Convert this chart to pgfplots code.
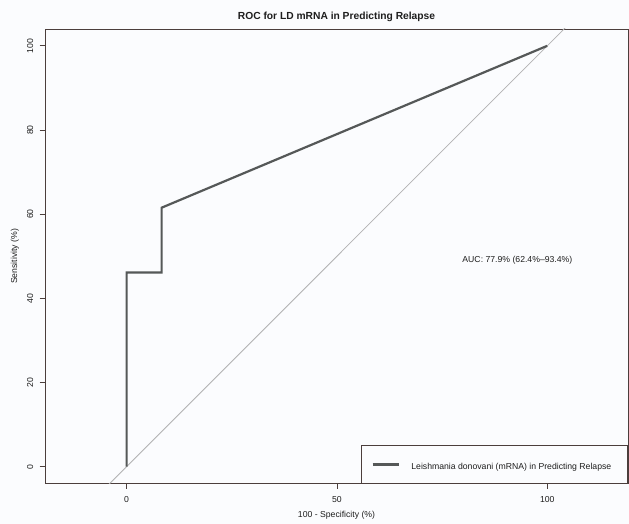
\documentclass[border=0pt]{standalone}
\usepackage{pgfplots}
\pgfplotsset{compat=1.18}
\usepackage{fontspec}
\setmainfont{Liberation Sans}
\definecolor{bgcol}{RGB}{251,252,254}
\definecolor{axcol}{RGB}{75,62,60}
\definecolor{roccol}{RGB}{85,88,88}
\definecolor{diagcol}{RGB}{178,178,178}
\definecolor{txtcol}{RGB}{30,30,30}
\begin{document}
\begin{tikzpicture}
\fill[bgcol] (0,0) rectangle (629bp,524bp);
\useasboundingbox (0,0) rectangle (629bp,524bp);
\begin{axis}[
  at={(45bp,40.3bp)}, anchor=south west,
  scale only axis, width=583bp, height=454.7bp,
  xmin=-19.4, xmax=119.2, ymin=-4.04, ymax=104.0,
  xtick={0,50,100}, ytick={0,20,40,60,80,100},
  xtick pos=bottom, ytick pos=left,
  tick align=outside, major tick length=5.3bp,
  axis line style={draw=axcol, line width=0.8bp},
  every tick/.style={draw=axcol, line width=0.8bp},
  /pgf/number format/assume math mode=true,
  tick label style={font=\fontsize{8.7}{10}\selectfont, text=txtcol},
  x tick label style={anchor=base, yshift=-13.1bp},
  y tick label style={rotate=90, anchor=base, yshift=6.6bp},
  label style={font=\fontsize{8.7}{10}\selectfont, text=txtcol},
  xlabel={100 - Specificity (\%)},
  ylabel={Sensitivity (\%)},
  xlabel style={at={(axis description cs:0.5,0)}, anchor=base, yshift=-34.3bp},
  ylabel style={at={(axis description cs:0,0.5)}, anchor=base, yshift=27.9bp},
  title={ROC for LD mRNA in Predicting Relapse},
  title style={at={(axis description cs:0.5,1)}, anchor=base, yshift=4bp, font=\bfseries\fontsize{10.3}{12}\selectfont, text=txtcol},
  legend style={at={(axis description cs:1,0)}, anchor=south east, draw=axcol, line width=0.8bp, fill=bgcol,
    inner xsep=0pt, inner ysep=0pt, nodes={inner sep=0pt}, font=\fontsize{8.7}{10}\selectfont, text=txtcol},
  legend image code/.code={\path[draw=none,fill=none] (0bp,-15.7bp) rectangle (50.3bp,21.7bp);
    \draw[#1] (11.6bp,3bp) -- (38.3bp,3bp);},
  axis background/.style={fill=bgcol},
]
\addplot[diagcol, line width=0.8bp, forget plot] coordinates {(-30,-30) (130,130)};
\addplot[roccol, line width=2.2bp] coordinates {(0,0) (0,46.15) (8.33,46.15) (8.33,61.54) (100,100)};
\addlegendentry{Leishmania donovani (mRNA) in Predicting Relapse\rule{16.3bp}{0pt}}
\node[font=\fontsize{8.7}{10}\selectfont, text=txtcol, anchor=center] at (axis cs:92.9,49.1) {AUC: 77.9\% (62.4\%–93.4\%)};
\end{axis}
\end{tikzpicture}
\end{document}
